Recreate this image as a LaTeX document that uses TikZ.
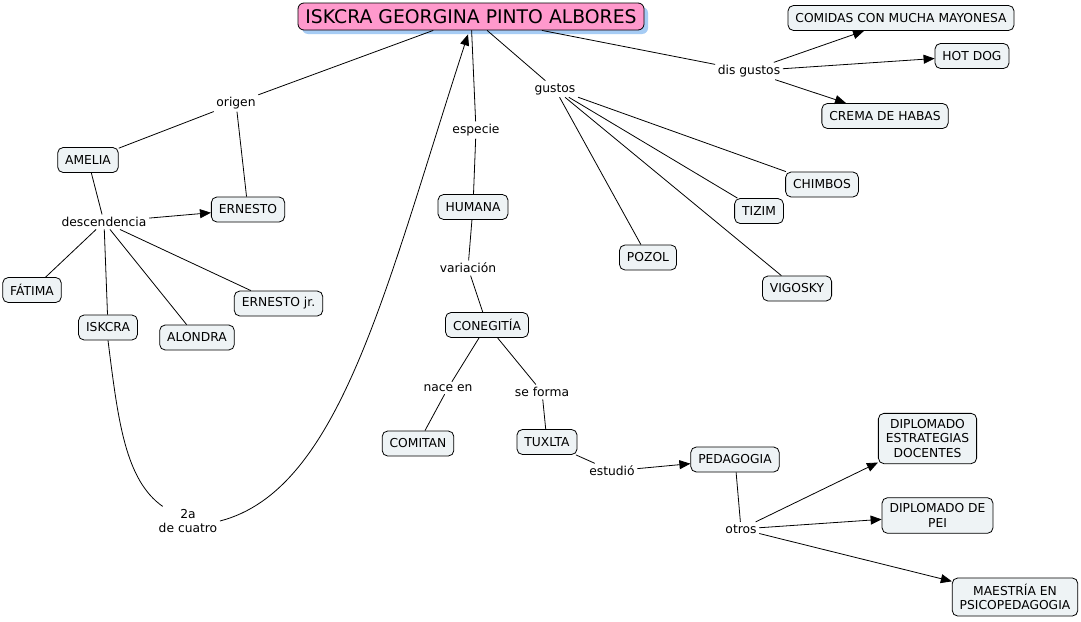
\documentclass[tikz,border=0pt]{standalone}
\usepackage{fontspec}
\setmainfont{DejaVu Sans}
\usetikzlibrary{arrows.meta}
\definecolor{boxfill}{HTML}{EEF3F5}
\definecolor{titlefill}{HTML}{FF99CC}
\definecolor{shadowblue}{HTML}{A6CCF4}
\begin{document}
\begin{tikzpicture}[x=1pt,y=-1pt,
  concept/.style={draw=black, line width=0.8pt, fill=boxfill, rounded corners=5.5pt,
    inner xsep=7.5pt, inner ysep=6pt, minimum height=25pt, align=center,
    font=\fontsize{12.3}{14.5}\selectfont},
  linklbl/.style={inner sep=2.5pt, align=center, font=\fontsize{12.3}{14.5}\selectfont},
  conn/.style={line width=0.8pt, draw=black},
  arr/.style={conn, -{Triangle[length=11pt,width=9pt]}}
]
\useasboundingbox (0,0) rectangle (1081,621);
\fill[white] (0,0) rectangle (1081,621);

% title with shadow
\fill[shadowblue, rounded corners=6pt] (302,7) rectangle (648,34);
\node[draw=black, line width=0.8pt, fill=titlefill, rounded corners=6pt,
  minimum width=346pt, minimum height=27pt, inner sep=0pt,
  font=\fontsize{18.8}{21}\selectfont] (title) at (471,16.5) {ISKCRA GEORGINA PINTO ALBORES};

% right top: dislikes
\node[concept] (comidas) at (901,18) {COMIDAS CON MUCHA MAYONESA};
\node[concept] (hotdog) at (972,56) {HOT DOG};
\node[concept] (crema) at (885,116) {CREMA DE HABAS};
\node[linklbl] (disg) at (749,71) {dis gustos};

% likes
\node[linklbl] (gustos) at (555,89) {gustos};
\node[concept] (chimbos) at (822,184.5) {CHIMBOS};
\node[concept] (tizim) at (759,211) {TIZIM};
\node[concept] (pozol) at (648,257.5) {POZOL};
\node[concept] (vigosky) at (797,288.5) {VIGOSKY};

% species
\node[linklbl] (especie) at (476,130) {especie};
\node[concept] (humana) at (473,207) {HUMANA};
\node[linklbl] (variacion) at (468,268) {variación};
\node[concept] (conegitia) at (487,325) {CONEGITÍA};
\node[linklbl] (nace) at (448,388) {nace en};
\node[linklbl] (seforma) at (542,392) {se forma};
\node[concept] (comitan) at (418,443.5) {COMITAN};
\node[concept] (tuxlta) at (547,442) {TUXLTA};
\node[linklbl] (estudio) at (612,471) {estudió};
\node[concept] (pedagogia) at (735,459.5) {PEDAGOGIA};
\node[linklbl] (otros) at (741,529) {otros};
\node[concept] (dipest) at (927.5,438.5) {DIPLOMADO\\ESTRATEGIAS\\DOCENTES};
\node[concept] (dippei) at (937.5,515.5) {DIPLOMADO DE\\PEI};
\node[concept] (maestria) at (1015,597) {MAESTRÍA EN\\PSICOPEDAGOGIA};

% origin / family
\node[linklbl] (origen) at (236,103) {origen};
\node[concept] (amelia) at (88,160) {AMELIA};
\node[concept] (ernesto) at (248,209.5) {ERNESTO};
\node[linklbl] (desc) at (104,222) {descendencia};
\node[concept] (fatima) at (32,290) {FÁTIMA};
\node[concept] (iskcra) at (108,327.5) {ISKCRA};
\node[concept] (alondra) at (197,337.5) {ALONDRA};
\node[concept] (ernestojr) at (278.5,303.5) {ERNESTO jr.};
\node[linklbl] (dos) at (188,521) {2a\\de cuatro};

% connectors: title branches
\draw[conn] (title) -- (origen);
\draw[conn] (origen) -- (amelia);
\draw[conn] (origen) -- (ernesto);
\draw[conn] (amelia) -- (desc);
\draw[arr] (desc) -- (ernesto);
\draw[conn] (desc) -- (fatima);
\draw[conn] (desc) -- (iskcra);
\draw[conn] (desc) -- (alondra);
\draw[conn] (desc) -- (ernestojr);
\draw[conn] (iskcra.south) .. controls (118,420) and (125,480) .. (dos.150);
\draw[arr] (dos.east) .. controls (340,490) and (385,290) .. ([xshift=-3pt,yshift=-4pt]title.south);

\draw[conn] (title) -- (especie);
\draw[conn] (especie) -- (humana);
\draw[conn] (humana) -- (variacion);
\draw[conn] (variacion) -- (conegitia);
\draw[conn] (conegitia) -- (nace);
\draw[conn] (nace) -- (comitan);
\draw[conn] (conegitia) -- (seforma);
\draw[conn] (seforma) -- (tuxlta);
\draw[conn] (tuxlta) -- (estudio);
\draw[arr] (estudio) -- (pedagogia);
\draw[conn] (pedagogia) -- (otros);
\draw[arr] (otros) -- (dipest);
\draw[arr] (otros) -- (dippei);
\draw[arr] (otros) -- (maestria);

\draw[conn] (title) -- (gustos);
\draw[conn] (gustos) -- (chimbos);
\draw[conn] (gustos) -- (tizim);
\draw[conn] (gustos) -- (pozol);
\draw[conn] (gustos) -- (vigosky);

\draw[conn] (title) -- (disg);
\draw[arr] (disg) -- (comidas);
\draw[arr] (disg) -- (hotdog);
\draw[arr] (disg) -- (crema);
\end{tikzpicture}
\end{document}
